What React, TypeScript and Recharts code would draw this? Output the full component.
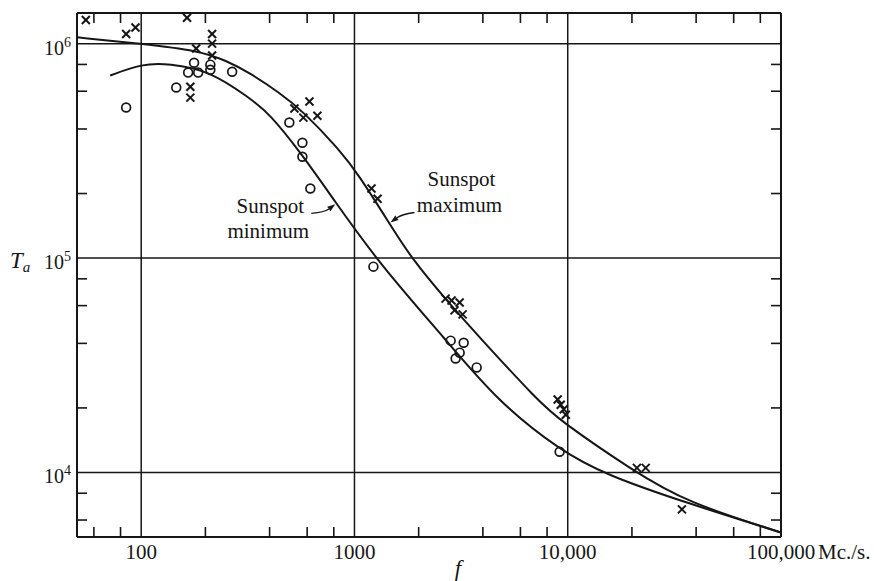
import React from 'react';
import { ComposedChart, XAxis, YAxis, Line, Scatter, ReferenceLine, ReferenceDot } from 'recharts';

const INK = '#161616';
const FONT = '"Liberation Serif", "Times New Roman", serif';
const TICK = 10;

// Frequency range (Mc./s.) and aerial temperature range of the plot
const fDomain = [50, 100000];
const tDomain = [5000, 1.39e6];

// Minor ticks on all four sides, decade labels
const xTicks = [60, 80, 100, 200, 400, 600, 800, 1000, 2000, 4000, 6000, 8000, 10000, 20000, 40000, 60000, 80000, 100000];
const xDecades = [100, 1000, 10000, 100000];
const xDecadeLabels = ['100', '1000', '10,000', '100,000'];
const xUnit = 'Mc./s.';
const yTicks = [6000, 8000, 10000, 20000, 40000, 60000, 80000, 100000, 200000, 400000, 600000, 800000, 1000000];
const yDecades = [10000, 100000, 1000000];
const yDecadeExp = ['4', '5', '6'];
const gridF = [100, 1000, 10000];
const gridT = [1e4, 1e5, 1e6];

// Smooth curves
const maxCurveF = [50, 100, 187, 251, 321, 444, 570, 851, 1045, 1459, 1853, 2704, 3863, 7230, 9160, 20200, 36200, 100000];
const maxCurveT = [1.07e6, 1.0e6, 9.27e5, 8.33e5, 7.33e5, 5.92e5, 4.87e5, 3.2e5, 2.45e5, 1.45e5, 9.95e4, 6.34e4, 4.26e4, 2.17e4, 1.75e4, 1.02e4, 7.24e3, 5.25e3];
const minCurveF = [71.5, 101, 135, 208, 321, 399, 560, 806, 1309, 2704, 4646, 9160, 15240, 36200, 100000];
const minCurveT = [7.1e5, 8.07e5, 8.07e5, 7.5e5, 5.6e5, 4.72e5, 3.1e5, 1.85e5, 9.4e4, 4.12e4, 2.17e4, 1.27e4, 9.7e3, 7.2e3, 5.25e3];

// Observations: x = sunspot maximum, o = sunspot minimum
const maxPtsF = [55, 85, 94, 164, 215, 215, 215, 181, 170, 170, 523, 615, 576, 670, 1202, 1283, 2673, 2853, 3112, 2946, 3215, 8970, 9270, 9580, 9790, 21100, 23200, 34300];
const maxPtsT = [1.29e6, 1.11e6, 1.19e6, 1.32e6, 1.11e6, 1.0e6, 8.8e5, 9.5e5, 6.3e5, 5.6e5, 4.98e5, 5.37e5, 4.52e5, 4.61e5, 2.11e5, 1.89e5, 6.47e4, 6.34e4, 6.2e4, 5.7e4, 5.46e4, 2.19e4, 2.07e4, 1.97e4, 1.86e4, 1.05e4, 1.05e4, 6.73e3];
const minPtsF = [85, 146, 177, 166, 185, 211, 211, 267, 495, 570, 570, 621, 1227, 2825, 3252, 3114, 2980, 3741, 9160];
const minPtsT = [5.04e5, 6.24e5, 8.15e5, 7.33e5, 7.33e5, 7.98e5, 7.55e5, 7.4e5, 4.29e5, 3.45e5, 2.97e5, 2.11e5, 9.12e4, 4.12e4, 4.03e4, 3.62e4, 3.4e4, 3.09e4, 1.25e4];

const zip = (fs: number[], ts: number[]) => fs.map((f, i) => ({ f, T: ts[i] }));
const maxCurve = zip(maxCurveF, maxCurveT);
const minCurve = zip(minCurveF, minCurveT);
const maxPts = zip(maxPtsF, maxPtsT);
const minPts = zip(minPtsF, minPtsT);

const BottomTick = ({ x, y, payload }: any) => {
  const i = xDecades.indexOf(payload.value);
  if (i < 0) return <line x1={x} x2={x} y1={y} y2={y - TICK} stroke={INK} strokeWidth={1.6} />;
  return (
    <g fontFamily={FONT} fontSize={21} fill={INK}>
      <text x={x} y={y + 22} textAnchor="middle">{xDecadeLabels[i]}</text>
      {i === xDecades.length - 1 && <text x={x + 37} y={y + 22}>{xUnit}</text>}
    </g>
  );
};

const TopTick = ({ x, y, payload }: any) =>
  xDecades.includes(payload.value) ? <g /> : <line x1={x} x2={x} y1={y} y2={y + TICK} stroke={INK} strokeWidth={1.6} />;

const LeftTick = ({ x, y, payload }: any) => {
  const i = yDecades.indexOf(payload.value);
  if (i < 0) return <line x1={x} x2={x + TICK} y1={y} y2={y} stroke={INK} strokeWidth={1.6} />;
  return (
    <text x={x - 6} y={y + 11} textAnchor="end" fontFamily={FONT} fontSize={20} fill={INK}>
      10<tspan dy={-8} fontSize={14}>{yDecadeExp[i]}</tspan>
    </text>
  );
};

const RightTick = ({ x, y, payload }: any) =>
  yDecades.includes(payload.value) ? <g /> : <line x1={x} x2={x - TICK} y1={y} y2={y} stroke={INK} strokeWidth={1.6} />;

const Cross = ({ cx, cy }: any) => (
  <g stroke={INK} strokeWidth={2}>
    <line x1={cx - 4} y1={cy - 4} x2={cx + 4} y2={cy + 4} />
    <line x1={cx - 4} y1={cy + 4} x2={cx + 4} y2={cy - 4} />
  </g>
);

const Ring = ({ cx, cy }: any) => <circle cx={cx} cy={cy} r={4.4} fill="none" stroke={INK} strokeWidth={1.7} />;

// curved arrow ending on the curve, with a filled head
const arrow = (tx: number, ty: number, qx: number, qy: number, hx: number, hy: number) => {
  const dx = hx - qx, dy = hy - qy;
  const len = Math.hypot(dx, dy) || 1;
  const ux = dx / len, uy = dy / len;
  const bx = hx - 8 * ux, by = hy - 8 * uy;
  return (
    <g>
      <path d={`M${tx},${ty} Q${qx},${qy} ${bx},${by}`} fill="none" stroke={INK} strokeWidth={1.4} />
      <path d={`M${hx},${hy} L${bx - 2.8 * uy},${by + 2.8 * ux} L${bx + 2.8 * uy},${by - 2.8 * ux} Z`} fill={INK} />
    </g>
  );
};

const MinNote = ({ cx, cy }: any) => (
  <g fontFamily={FONT} fontSize={21} fill={INK}>
    {arrow(cx - 25, cy + 10, cx - 12, cy + 9, cx - 1, cy + 1)}
    <text x={cx - 66} y={cy + 10} textAnchor="middle">Sunspot</text>
    <text x={cx - 68} y={cy + 35} textAnchor="middle">minimum</text>
  </g>
);

const MaxNote = ({ cx, cy }: any) => (
  <g fontFamily={FONT} fontSize={21} fill={INK}>
    {arrow(cx + 25, cy - 11, cx + 12, cy - 9, cx + 1, cy - 1)}
    <text x={cx + 72} y={cy - 37} textAnchor="middle">Sunspot</text>
    <text x={cx + 70} y={cy - 11} textAnchor="middle">maximum</text>
  </g>
);

const TaLabel = ({ viewBox }: any) => (
  <text x={viewBox.x + viewBox.width - 67} y={viewBox.y + 255} fontFamily={FONT} fontStyle="italic" fontSize={23} fill={INK}>
    T<tspan fontSize={15} dy={4}>a</tspan>
  </text>
);

const FLabel = ({ viewBox }: any) => (
  <text x={viewBox.x + 381} y={viewBox.y + 39} textAnchor="middle" fontFamily={FONT} fontStyle="italic" fontSize={23} fill={INK}>
    f
  </text>
);

export default function App() {
  const axisLine = { stroke: INK, strokeWidth: 2 };
  return (
    <div style={{ position: 'absolute', left: 0, top: 0, width: 875, height: 581, background: '#fff' }}>
      <ComposedChart width={875} height={581} margin={{ top: 0, left: 0, right: 0, bottom: 0 }}>
        <XAxis xAxisId="b" dataKey="f" type="number" scale="log" domain={fDomain} allowDataOverflow
          ticks={xTicks} interval={0} height={44} tickSize={0} tickMargin={0} tickLine={false}
          axisLine={axisLine} tick={<BottomTick />} label={FLabel} />
        <XAxis xAxisId="t" orientation="top" dataKey="f" type="number" scale="log" domain={fDomain} allowDataOverflow
          ticks={xTicks} interval={0} height={13} tickSize={0} tickMargin={0} tickLine={false}
          axisLine={axisLine} tick={<TopTick />} />
        <YAxis yAxisId="l" dataKey="T" type="number" scale="log" domain={tDomain} allowDataOverflow
          ticks={yTicks} interval={0} width={77} tickSize={0} tickMargin={0} tickLine={false}
          axisLine={axisLine} tick={<LeftTick />} label={TaLabel} />
        <YAxis yAxisId="r" orientation="right" dataKey="T" type="number" scale="log" domain={tDomain} allowDataOverflow
          ticks={yTicks} interval={0} width={94} tickSize={0} tickMargin={0} tickLine={false}
          axisLine={axisLine} tick={<RightTick />} />

        {gridF.map(v => (
          <ReferenceLine key={`gx${v}`} xAxisId="b" yAxisId="l" x={v} stroke={INK} strokeWidth={1.5} />
        ))}
        {gridT.map(v => (
          <ReferenceLine key={`gy${v}`} xAxisId="b" yAxisId="l" y={v} stroke={INK} strokeWidth={1.5} />
        ))}

        <Line xAxisId="b" yAxisId="l" data={maxCurve} dataKey="T" type="basis" stroke={INK} strokeWidth={2}
          dot={false} activeDot={false} isAnimationActive={false} />
        <Line xAxisId="b" yAxisId="l" data={minCurve} dataKey="T" type="basis" stroke={INK} strokeWidth={2}
          dot={false} activeDot={false} isAnimationActive={false} />
        <Scatter xAxisId="b" yAxisId="l" data={maxPts} dataKey="T" shape={<Cross />} isAnimationActive={false} />
        <Scatter xAxisId="b" yAxisId="l" data={minPts} dataKey="T" shape={<Ring />} isAnimationActive={false} />

        <ReferenceDot xAxisId="b" yAxisId="l" x={822} y={1.8e5} r={0} shape={<MinNote />} />
        <ReferenceDot xAxisId="b" yAxisId="l" x={1459} y={1.45e5} r={0} shape={<MaxNote />} />
      </ComposedChart>
    </div>
  );
}
